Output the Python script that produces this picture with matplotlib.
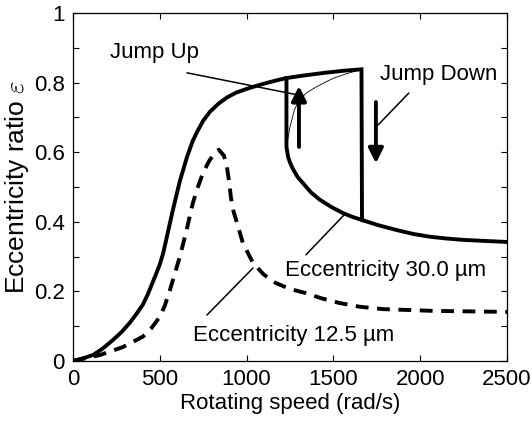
import matplotlib
matplotlib.use("Agg")
import matplotlib.pyplot as plt
from matplotlib.ticker import FixedLocator

plt.rcParams['font.family'] = ['Liberation Sans', 'DejaVu Sans']
plt.rcParams['mathtext.fontset'] = 'cm'

# eccentricity 30.0 um - rising part, upper branch, jump down and tail
rise_w = [0, 60, 115, 170, 230, 280, 328, 370, 403, 430, 449, 475, 501, 520, 536, 556, 576, 615, 657, 690,
          714, 750, 789, 840, 887, 940, 1002, 1060, 1117, 1170, 1230, 1340, 1450, 1560, 1662,
          1665, 1760, 1866, 1960, 2056, 2150, 2246, 2370, 2500]
rise_e = [0, 0.008, 0.017, 0.035, 0.06, 0.083, 0.11, 0.138, 0.162, 0.19, 0.213, 0.245, 0.278, 0.31, 0.345, 0.39, 0.434, 0.515, 0.586, 0.632,
          0.657, 0.69, 0.716, 0.74, 0.757, 0.771, 0.782, 0.791, 0.799, 0.806, 0.813, 0.821, 0.828, 0.834, 0.838,
          0.405, 0.39, 0.376, 0.365, 0.357, 0.352, 0.348, 0.345, 0.342]

# lower stable branch between the two jumps (starts with the jump-up vertical)
low_w = [1230, 1230, 1240, 1252, 1267, 1295, 1327, 1370, 1423, 1490, 1555, 1610, 1665]
low_e = [0.813, 0.615, 0.585, 0.568, 0.552, 0.528, 0.51, 0.485, 0.463, 0.442, 0.425, 0.414, 0.405]

# thin unstable branch
thin_w = [1235, 1250, 1275, 1302, 1350, 1400, 1450, 1498, 1580, 1662]
thin_e = [0.63, 0.672, 0.72, 0.75, 0.772, 0.787, 0.8, 0.812, 0.826, 0.838]

# eccentricity 12.5 um
dash_w = [0, 155, 288, 403, 450, 501, 530, 559, 616, 651, 691, 720, 749, 785, 818, 840, 870, 887, 900, 910, 925,
          945, 979, 1037, 1100, 1169, 1250, 1342, 1432, 1532, 1650, 1786, 2074, 2500]
dash_e = [0, 0.017, 0.04, 0.07, 0.093, 0.127, 0.16, 0.204, 0.3, 0.368, 0.454, 0.5, 0.54, 0.575, 0.598, 0.607, 0.59, 0.557, 0.515, 0.47, 0.43,
          0.397, 0.339, 0.282, 0.248, 0.224, 0.207, 0.195, 0.18, 0.167, 0.156, 0.149, 0.144, 0.141]

xticks = [0, 500, 1000, 1500, 2000, 2500]
yticks = [0, 0.2, 0.4, 0.6, 0.8, 1]
ylabels = ['0', '0.2', '0.4', '0.6', '0.8', '1']

fig = plt.figure(figsize=(5.32, 4.26), dpi=100)
ax = fig.add_axes([0.137, 0.1526, 0.816, 0.817])

ax.plot(rise_w, rise_e, color='black', lw=2.8, solid_joinstyle='miter')
ax.plot(low_w, low_e, color='black', lw=2.8, solid_joinstyle='miter')
ax.plot(thin_w, thin_e, color='black', lw=0.6)
ax.plot(dash_w, dash_e, color='black', lw=2.8, dashes=(3.3, 2.2))

# jump arrows
ax.annotate('', xy=(1302, 0.79), xytext=(1302, 0.615),
            arrowprops=dict(arrowstyle='-|>', lw=2.8, color='black', mutation_scale=22, shrinkA=0, shrinkB=0))
ax.annotate('', xy=(1745, 0.568), xytext=(1745, 0.744),
            arrowprops=dict(arrowstyle='-|>', lw=2.8, color='black', mutation_scale=22, shrinkA=0, shrinkB=0))

fs = 16
line = dict(arrowstyle='-', lw=1.1, color='black', shrinkA=0, shrinkB=0)
ax.text(213, 0.885, 'Jump Up', fontsize=fs, ha='left', va='center')
ax.annotate('', xy=(1290, 0.765), xytext=(657, 0.828), arrowprops=line)
ax.text(2108, 0.822, 'Jump Down', fontsize=fs, ha='center', va='center')
ax.annotate('', xy=(1757, 0.678), xytext=(1935, 0.77), arrowprops=line)
ax.text(1803, 0.261, 'Eccentricity 30.0 \u00b5m', fontsize=fs, ha='center', va='center')
ax.annotate('', xy=(1572, 0.425), xytext=(1342, 0.305), arrowprops=line)
ax.text(1273, 0.072, 'Eccentricity 12.5 \u00b5m', fontsize=fs, ha='center', va='center')
ax.annotate('', xy=(1037, 0.267), xytext=(772, 0.132), arrowprops=line)

ax.set_xlim(0, 2500)
ax.set_ylim(0, 1)
ax.set_xticks(xticks)
ax.set_xticklabels([str(t) for t in xticks])
ax.set_yticks(yticks)
ax.set_yticklabels(ylabels)
ax.yaxis.set_minor_locator(FixedLocator([0.1, 0.3, 0.5, 0.7, 0.9]))
ax.tick_params(which='both', direction='in', top=True, right=True, labelsize=fs, width=0.8)
ax.tick_params(which='major', length=4, pad=6)
ax.tick_params(which='minor', length=4)
for s in ax.spines.values():
    s.set_linewidth(0.9)

ax.set_xlabel('Rotating speed (rad/s)', fontsize=fs, labelpad=2)
ax.set_ylabel(r'Eccentricity ratio $\varepsilon$', fontsize=19, labelpad=2)

fig.savefig('out.png', dpi=100)
